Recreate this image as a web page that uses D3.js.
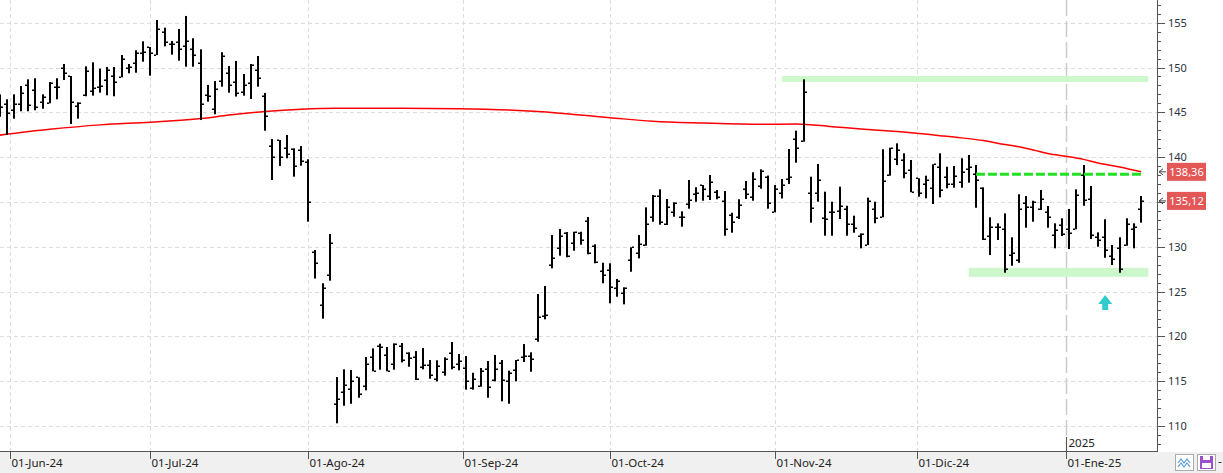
<!DOCTYPE html>
<html>
<head>
<meta charset="utf-8">
<script src="https://d3js.org/d3.v7.min.js"></script>
<style>
  body { margin: 0; background: #fff; }
  svg { display: block; font-family: "Segoe UI", "Noto Sans", sans-serif; }
  .grid line { stroke: #dcdcdc; stroke-dasharray: 4,3; }
</style>
</head>
<body>
<svg id="chart" width="1223" height="473"></svg>
<script>
  // daily OHLC, first entry is the bar cut off at the left edge (bar -1)
  var firstBar = -1;
  var opens = [146.5, 145.93, 145.26, 145.89, 148.08, 147.49, 146.15, 146.01, 147.79, 149.98,
    149.05, 145.70, 146.90, 147.38, 147.79, 148.64, 149.02, 148.91, 149.91, 150.47,
    151.58, 152.29, 151.39, 153.93, 152.59, 152.81, 152.43, 152.03, 150.47, 146.93,
    145.40, 148.49, 149.35, 148.33, 147.30, 148.27, 149.72, 146.79, 141.21, 141.91,
    140.99, 140.88, 140.80, 139.49, 129.47, 123.47, 126.82, 112.43, 113.76, 114.10,
    115.44, 114.44, 117.67, 118.93, 117.89, 116.92, 118.90, 118.12, 117.67, 116.55,
    116.78, 115.21, 116.00, 118.12, 116.89, 116.44, 114.21, 114.44, 116.33, 115.10,
    117.00, 114.99, 116.22, 117.74, 117.85, 119.75, 122.28, 127.94, 129.83, 131.57,
    130.42, 131.57, 132.84, 130.12, 127.30, 127.41, 125.37, 124.81, 128.52, 129.27,
    130.17, 133.29, 135.67, 132.54, 133.91, 133.29, 134.77, 135.89, 136.86, 135.67,
    136.08, 135.11, 133.55, 133.36, 136.41, 135.52, 136.78, 137.79, 133.85, 135.97,
    137.56, 141.99, 141.80, 136.00, 135.97, 133.18, 133.88, 133.99, 134.21, 132.54,
    131.20, 130.20, 134.18, 133.32, 138.01, 139.76, 139.68, 138.57, 137.64, 137.00,
    136.52, 138.87, 137.75, 137.00, 137.19, 138.64, 138.12, 136.56, 131.20, 132.17,
    131.95, 129.08, 128.52, 134.85, 134.47, 134.18, 133.91, 131.31, 132.43, 131.95,
    131.98, 138.01, 135.30, 131.06, 131.06, 128.97, 129.83, 130.20, 131.95, 134.22];
  var highs = [147.0, 146.45, 147.01, 147.94, 148.68, 148.80, 147.01, 148.38, 148.80, 150.39,
    149.05, 146.12, 150.13, 150.58, 149.87, 150.06, 150.06, 151.39, 150.39, 151.92,
    152.92, 152.29, 155.30, 154.44, 152.96, 154.30, 155.75, 153.26, 152.03, 148.05,
    148.49, 151.70, 150.17, 150.73, 149.28, 150.39, 151.28, 147.16, 142.02, 141.91,
    142.47, 140.99, 141.24, 139.76, 129.64, 125.93, 131.43, 115.47, 116.33, 116.25,
    115.44, 117.70, 118.67, 119.19, 118.82, 119.23, 119.27, 118.23, 118.37, 118.71,
    117.37, 117.34, 117.67, 119.38, 118.04, 117.81, 115.95, 116.48, 117.26, 117.93,
    117.37, 116.18, 117.37, 119.15, 118.23, 124.73, 125.62, 131.31, 131.98, 131.65,
    131.68, 131.68, 133.32, 130.28, 128.22, 128.16, 126.41, 125.48, 129.94, 131.31,
    134.40, 135.78, 136.41, 135.33, 134.96, 133.96, 137.45, 136.64, 136.89, 138.01,
    136.33, 136.22, 133.80, 135.30, 137.34, 138.31, 138.64, 137.95, 136.89, 137.56,
    140.91, 142.95, 148.68, 137.82, 139.24, 136.15, 135.03, 136.70, 134.58, 133.47,
    131.50, 135.48, 135.03, 140.88, 141.05, 141.54, 140.43, 139.68, 137.64, 137.93,
    139.20, 140.43, 138.93, 139.01, 139.87, 140.24, 139.12, 136.64, 133.29, 132.62,
    133.73, 131.06, 135.86, 135.66, 135.14, 136.33, 134.55, 132.62, 133.18, 134.22,
    136.41, 139.12, 136.78, 131.61, 133.07, 130.20, 131.06, 133.18, 132.62, 135.66];
  var lows = [144.5, 142.47, 144.29, 145.12, 145.12, 145.23, 145.40, 146.01, 146.45, 148.61,
    143.70, 144.29, 146.79, 146.86, 147.19, 146.90, 146.79, 148.91, 149.35, 149.42,
    150.65, 149.09, 151.39, 152.36, 151.43, 150.76, 150.09, 150.09, 144.14, 146.19,
    144.78, 147.86, 147.19, 146.76, 146.86, 146.49, 147.86, 142.95, 137.45, 139.01,
    139.87, 137.82, 139.05, 132.80, 126.46, 121.98, 126.22, 110.31, 112.27, 112.49,
    113.16, 113.99, 116.11, 116.29, 116.11, 116.29, 117.11, 116.62, 115.14, 116.33,
    115.28, 114.99, 115.62, 116.33, 116.22, 114.06, 114.06, 114.39, 113.16, 114.99,
    112.76, 112.49, 114.99, 117.15, 116.06, 119.41, 121.91, 127.60, 129.01, 128.83,
    129.56, 130.23, 129.16, 128.16, 125.93, 123.70, 124.43, 123.58, 127.22, 128.71,
    130.12, 132.80, 132.47, 132.43, 133.36, 132.24, 134.25, 135.03, 135.14, 135.22,
    135.30, 131.24, 131.57, 133.10, 135.33, 135.14, 136.48, 134.25, 133.85, 135.39,
    137.00, 139.38, 141.72, 132.69, 135.03, 131.24, 131.24, 133.10, 131.24, 131.57,
    129.83, 130.20, 132.62, 133.29, 137.93, 139.12, 137.64, 136.08, 135.59, 135.41,
    134.77, 135.52, 136.52, 136.59, 136.59, 137.15, 134.36, 130.76, 129.08, 130.76,
    127.11, 127.89, 128.22, 132.13, 132.80, 134.10, 132.13, 129.83, 131.20, 129.75,
    131.95, 134.58, 130.87, 130.01, 128.78, 127.97, 127.11, 130.12, 129.83, 132.69];
  var closes = [145.6, 144.92, 145.89, 147.12, 145.78, 145.56, 146.68, 148.24, 147.85, 149.35,
    146.12, 146.01, 149.61, 147.71, 147.94, 149.69, 148.38, 150.91, 150.09, 151.65,
    151.76, 151.65, 154.30, 152.81, 152.59, 152.06, 152.99, 151.39, 145.93, 146.82,
    147.60, 151.28, 148.05, 147.16, 148.08, 150.33, 148.83, 144.60, 139.98, 140.05,
    140.32, 138.98, 139.54, 135.05, 128.16, 125.37, 130.39, 112.98, 114.55, 114.99,
    113.54, 116.92, 116.17, 118.79, 116.17, 119.19, 117.34, 117.59, 115.28, 116.78,
    115.66, 116.67, 117.45, 116.55, 117.22, 114.99, 115.22, 116.14, 114.32, 116.33,
    115.10, 115.88, 117.34, 117.80, 117.48, 122.13, 122.36, 128.72, 131.17, 129.01,
    131.62, 130.72, 129.27, 128.27, 126.82, 125.48, 126.18, 125.37, 129.94, 130.31,
    132.58, 135.70, 132.80, 134.40, 134.85, 133.30, 135.22, 135.97, 136.41, 137.19,
    135.52, 131.95, 132.73, 134.66, 135.86, 137.53, 138.45, 134.88, 136.45, 136.89,
    137.75, 140.99, 147.30, 134.33, 137.45, 133.07, 133.91, 134.55, 132.51, 132.13,
    131.42, 135.14, 133.18, 137.34, 140.99, 140.80, 138.26, 136.08, 135.97, 137.45,
    139.20, 136.33, 137.00, 137.90, 138.31, 138.87, 137.45, 130.87, 132.17, 132.20,
    127.52, 129.27, 134.18, 134.47, 135.03, 135.30, 133.29, 131.87, 131.42, 131.50,
    135.78, 135.22, 131.31, 130.76, 129.64, 128.67, 127.52, 132.51, 132.17, 135.12];

  // long moving average (red), read at these bar numbers
  var maBars = [-1, 6, 13, 20, 27, 31, 36, 41, 46, 55, 63, 74, 84, 90, 97, 105, 110, 115,
    119, 124, 130, 133, 136, 138, 141, 143, 145, 148, 150, 152, 155, 158];
  var maVals = [142.45, 143.1, 143.6, 143.9, 144.3, 144.7, 145.1, 145.35, 145.45, 145.45,
    145.4, 145.1, 144.4, 144.0, 143.8, 143.66, 143.7, 143.4, 143.15, 142.85, 142.4,
    142.15, 141.85, 141.55, 141.15, 140.8, 140.4, 140.05, 139.75, 139.35, 138.9, 138.36];

  // month starts (bar number; between two bars when the 1st was not a trading day)
  var monthBars = [0.4, 20, 42, 63.5, 84, 107, 126.8, 147.5];
  var monthLabels = ["01-Jun-24", "01-Jul-24", "01-Ago-24", "01-Sep-24", "01-Oct-24",
    "01-Nov-24", "01-Dic-24", "01-Ene-25"];

  // drawn levels
  var zoneVals = [148.72, 127.15];
  var zoneFrom = [108, 134];
  var zoneTo = [159, 159];
  var dashVal = [138.1];
  var dashFrom = [135];
  var dashTo = [158];
  var signalBars = [153.0];
  var signalVals = [124.62];

  var W = 1223, H = 473, plotR = 1157, plotB = 451;
  var svg = d3.select("#chart");

  var x = d3.scaleLinear().domain([0, 158]).range([6.7, 1141.1]);
  var y = d3.scaleLinear().domain([107.22, 157.53]).range([plotB, 0]);

  svg.append("defs").append("clipPath").attr("id", "clip")
    .append("rect").attr("x", 0).attr("y", 0).attr("width", plotR).attr("height", plotB);

  // bottom strip
  svg.append("rect").attr("x", 0).attr("y", plotB + 1).attr("width", W).attr("height", H - plotB - 1)
    .attr("fill", "#f0f0f0");

  var plot = svg.append("g").attr("clip-path", "url(#clip)");

  // grid
  var grid = plot.append("g").attr("class", "grid");
  grid.selectAll(".h").data(d3.range(110, 156, 5)).enter().append("line")
    .attr("x1", 0).attr("x2", plotR)
    .attr("y1", function(d) { return Math.round(y(d)) + 0.5; })
    .attr("y2", function(d) { return Math.round(y(d)) + 0.5; });
  grid.selectAll(".v").data(monthBars.slice(0, -1)).enter().append("line")
    .attr("y1", 0).attr("y2", plotB)
    .attr("x1", function(d) { return Math.round(x(d)) + 0.5; })
    .attr("x2", function(d) { return Math.round(x(d)) + 0.5; });
  // year separator
  plot.append("line")
    .attr("x1", Math.round(x(monthBars[7])) + 0.5).attr("x2", Math.round(x(monthBars[7])) + 0.5)
    .attr("y1", 0).attr("y2", plotB)
    .attr("stroke", "#cccccc").attr("stroke-width", 1.5).attr("stroke-dasharray", "16,5");

  // zones
  var zoneH = [6, 9];
  zoneVals.forEach(function(v, k) {
    plot.append("rect")
      .attr("x", x(zoneFrom[k])).attr("width", x(zoneTo[k]) - x(zoneFrom[k]))
      .attr("y", y(v) - zoneH[k] / 2).attr("height", zoneH[k])
      .attr("fill", "#ccf8cc");
  });

  // moving average
  var ma = maBars.map(function(b, k) { return [b, maVals[k]]; });
  plot.append("path").datum(ma)
    .attr("d", d3.line().curve(d3.curveMonotoneX)
      .x(function(d) { return x(d[0]); }).y(function(d) { return y(d[1]); }))
    .attr("fill", "none").attr("stroke", "#ff0000").attr("stroke-width", 1.5);

  // OHLC bars
  var bars = opens.map(function(o, k) {
    return {b: k + firstBar, o: o, h: highs[k], l: lows[k], c: closes[k]};
  });
  var g = plot.append("g").attr("fill", "#000");
  bars.forEach(function(d) {
    var cx = Math.round(x(d.b));
    g.append("rect").attr("x", cx - 1).attr("width", 2)
      .attr("y", y(d.h)).attr("height", Math.max(1, y(d.l) - y(d.h)));
    g.append("rect").attr("x", cx - 3).attr("width", 2)
      .attr("y", Math.round(y(d.o)) - 0.5).attr("height", 1.5);
    g.append("rect").attr("x", cx + 1).attr("width", 2)
      .attr("y", Math.round(y(d.c)) - 0.5).attr("height", 1.5);
  });

  // dashed level
  dashVal.forEach(function(v, k) {
    plot.append("line")
      .attr("x1", x(dashFrom[k])).attr("x2", x(dashTo[k]))
      .attr("y1", y(v)).attr("y2", y(v))
      .attr("stroke", "#22e022").attr("stroke-width", 3).attr("stroke-dasharray", "9,3");
  });

  // buy signal arrow
  signalBars.forEach(function(b, k) {
    var ax = x(b), ay = y(signalVals[k]);
    plot.append("path")
      .attr("d", "M" + ax + "," + ay + " L" + (ax + 7) + "," + (ay + 9) + " L" + (ax + 3) + "," + (ay + 9) +
        " L" + (ax + 3) + "," + (ay + 15) + " L" + (ax - 3) + "," + (ay + 15) + " L" + (ax - 3) + "," + (ay + 9) +
        " L" + (ax - 7) + "," + (ay + 9) + "Z")
      .attr("fill", "#33cccc");
  });

  // axes lines
  svg.append("line").attr("x1", 0).attr("x2", plotR + 1).attr("y1", plotB + 0.5).attr("y2", plotB + 0.5)
    .attr("stroke", "#555");
  svg.append("line").attr("x1", plotR + 0.5).attr("x2", plotR + 0.5).attr("y1", 0).attr("y2", plotB + 1)
    .attr("stroke", "#555");

  // x ticks and labels
  var xt = svg.append("g");
  monthBars.forEach(function(b, k) {
    var tx = Math.round(x(b)) + 0.5;
    xt.append("line").attr("x1", tx).attr("x2", tx).attr("y1", plotB).attr("y2", plotB + 8)
      .attr("stroke", "#555");
    xt.append("text").attr("x", tx + 1).attr("y", 467)
      .attr("font-size", 11.5).attr("fill", "#222").text(monthLabels[k]);
  });
  var yrX = Math.round(x(monthBars[7])) + 0.5;
  xt.append("line").attr("x1", yrX).attr("x2", yrX).attr("y1", 437).attr("y2", plotB)
    .attr("stroke", "#555");
  xt.append("text").attr("x", yrX + 2).attr("y", 447)
    .attr("font-size", 11.5).attr("fill", "#222").text("2025");

  // last value tags (MA and last close)
  var tagVals = [maVals[maVals.length - 1], closes[closes.length - 1]];

  // y ticks and labels; a label hidden behind a tag is not drawn
  var yt = svg.append("g");
  d3.range(108, 158).forEach(function(p) {
    var ty = Math.round(y(p)) + 0.5;
    var major = p % 5 === 0;
    yt.append("line").attr("x1", plotR).attr("x2", plotR + (major ? 8 : 4))
      .attr("y1", ty).attr("y2", ty).attr("stroke", "#555");
    var covered = tagVals.some(function(v) { return Math.abs(y(v) - ty) < 14; });
    if (major && !covered) {
      yt.append("text").attr("x", 1168).attr("y", ty).attr("dy", "0.34em")
        .attr("font-size", 11).attr("fill", "#2b3340").text(p);
    }
  });

  var fmt = function(v) { return d3.format(".2f")(v).replace(".", ","); };
  tagVals.forEach(function(v) {
    var ty = y(v);
    yt.append("path")
      .attr("d", "M" + (plotR + 6) + "," + (ty - 3) + " L" + (plotR + 2) + "," + ty + " L" + (plotR + 6) + "," + (ty + 3) +
        " M" + (plotR + 2) + "," + ty + " L" + (plotR + 9) + "," + ty)
      .attr("fill", "none").attr("stroke", "#444");
    yt.append("rect").attr("x", 1167).attr("y", ty - 9).attr("width", 39).attr("height", 18)
      .attr("fill", "#e35757");
    yt.append("text").attr("x", 1186.5).attr("y", ty).attr("dy", "0.35em").attr("text-anchor", "middle")
      .attr("font-size", 11).attr("fill", "#fff").text(fmt(v));
  });

  // corner buttons
  var btn = svg.append("g");
  btn.append("rect").attr("x", 1175.5).attr("y", 454.5).attr("width", 18).attr("height", 16)
    .attr("fill", "#fff").attr("stroke", "#aaa");
  btn.append("path").attr("d", "M1178,463 l3,-4 l3,4 l3,-4 l3,4 M1178,467 l3,-4 l3,4 l3,-4 l3,4")
    .attr("fill", "none").attr("stroke", "#5b9bd5").attr("stroke-width", 1.2);
  btn.append("rect").attr("x", 1197.5).attr("y", 454.5).attr("width", 18).attr("height", 16)
    .attr("fill", "#fff").attr("stroke", "#aaa");
  btn.append("rect").attr("x", 1200).attr("y", 456).attr("width", 13).attr("height", 13)
    .attr("fill", "#9b4fc9");
  btn.append("rect").attr("x", 1203).attr("y", 456).attr("width", 7).attr("height", 4).attr("fill", "#fff");
  btn.append("rect").attr("x", 1202).attr("y", 463).attr("width", 9).attr("height", 5).attr("fill", "#fff");
  btn.append("text").attr("x", 1218).attr("y", 466).attr("font-size", 12).attr("fill", "#333").text("-");
</script>
</body>
</html>
